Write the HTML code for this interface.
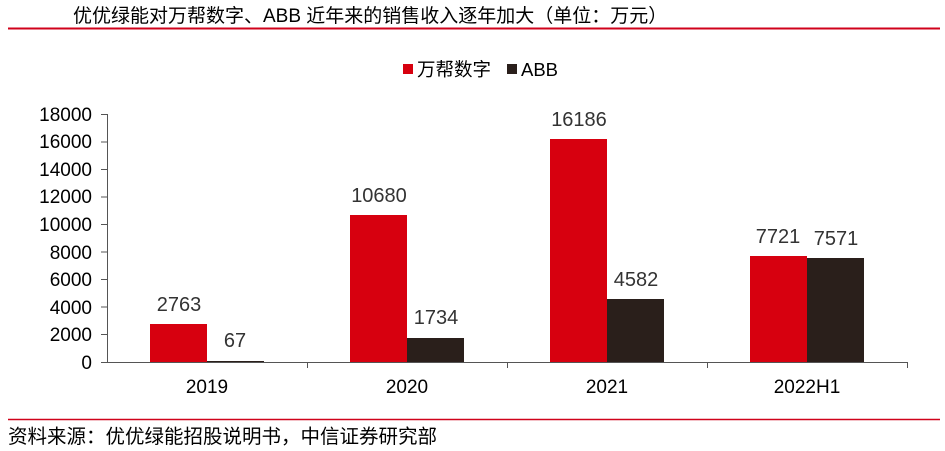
<!DOCTYPE html>
<html><head><meta charset="utf-8"><style>
body{margin:0;background:#fff;}
svg{display:block;font-family:"Liberation Sans","Noto Sans CJK SC",sans-serif;}
</style></head><body>
<svg width="945" height="451" viewBox="0 0 945 451">
<text x="73" y="22" font-size="19" fill="#000">优优绿能对万帮数字、ABB 近年来的销售收入逐年加大（单位：万元）</text>
<line x1="8" y1="28.5" x2="940" y2="28.5" stroke="#d0021b" stroke-width="2"/>
<rect x="403" y="64" width="10" height="10" fill="#d7000f"/>
<text x="417" y="76" font-size="18.5">万帮数字</text>
<rect x="507" y="64" width="10" height="10" fill="#2a1f1b"/>
<text x="521" y="76" font-size="18.5">ABB</text>
<g font-size="19" text-anchor="end" fill="#000">
<text x="92" y="369">0</text><text x="92" y="341">2000</text><text x="92" y="314">4000</text>
<text x="92" y="286">6000</text><text x="92" y="259">8000</text><text x="92" y="231">10000</text>
<text x="92" y="203">12000</text><text x="92" y="176">14000</text><text x="92" y="148">16000</text>
<text x="92" y="121">18000</text>
</g>
<g stroke="#555" stroke-width="1">
<line x1="107.5" y1="114" x2="107.5" y2="362"/>
<line x1="101" y1="114.5" x2="107" y2="114.5"/><line x1="101" y1="142" x2="107" y2="142"/>
<line x1="101" y1="169.5" x2="107" y2="169.5"/><line x1="101" y1="197" x2="107" y2="197"/>
<line x1="101" y1="224.5" x2="107" y2="224.5"/><line x1="101" y1="252" x2="107" y2="252"/>
<line x1="101" y1="279.5" x2="107" y2="279.5"/><line x1="101" y1="307" x2="107" y2="307"/>
<line x1="101" y1="334.5" x2="107" y2="334.5"/>
<line x1="101" y1="362.5" x2="907" y2="362.5"/>
<line x1="307.5" y1="362" x2="307.5" y2="368"/><line x1="507.5" y1="362" x2="507.5" y2="368"/>
<line x1="707.5" y1="362" x2="707.5" y2="368"/><line x1="907.5" y1="362" x2="907.5" y2="368"/>
</g>
<g fill="#d7000f">
<rect x="150" y="324" width="57" height="38"/><rect x="350" y="215" width="57" height="147"/>
<rect x="550" y="139" width="57" height="223"/><rect x="750" y="256" width="57" height="106"/>
</g>
<g fill="#2a1f1b">
<rect x="207" y="361" width="57" height="1"/><rect x="407" y="338" width="57" height="24"/>
<rect x="607" y="299" width="57" height="63"/><rect x="807" y="258" width="57" height="104"/>
</g>
<g font-size="20" text-anchor="middle" fill="#333">
<text x="179" y="311">2763</text><text x="235" y="347">67</text>
<text x="379" y="202">10680</text><text x="436" y="324">1734</text>
<text x="579" y="126">16186</text><text x="636" y="286">4582</text>
<text x="778" y="243">7721</text><text x="836" y="245">7571</text>
</g>
<g font-size="19" text-anchor="middle" fill="#000">
<text x="207" y="393">2019</text><text x="407" y="393">2020</text>
<text x="607" y="393">2021</text><text x="807" y="393">2022H1</text>
</g>
<line x1="8" y1="419.5" x2="940" y2="419.5" stroke="#d0021b" stroke-width="1.5"/>
<text x="8" y="443" font-size="19.5" fill="#000">资料来源：优优绿能招股说明书，中信证券研究部</text>
</svg>
</body></html>
